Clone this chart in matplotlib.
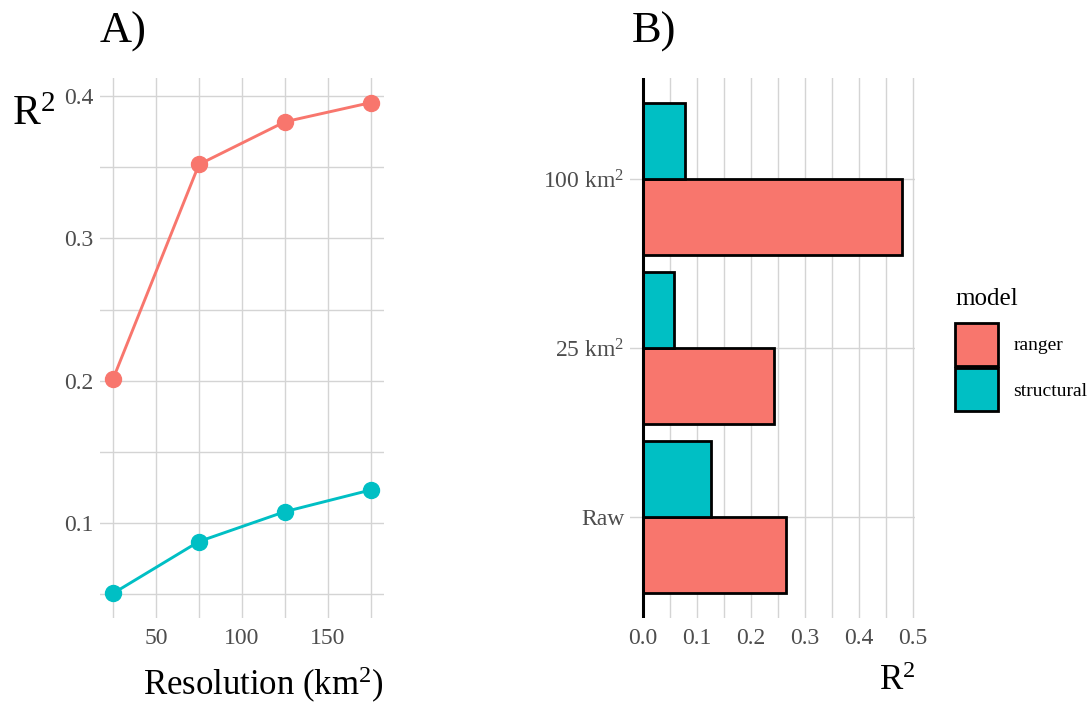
import matplotlib
matplotlib.use("Agg")
import matplotlib.pyplot as plt
from matplotlib.patches import Patch
import numpy as np

# ---- data ----
resolution = [25, 75, 125, 175]
ranger_line = [0.201, 0.352, 0.382, 0.3955]
structural_line = [0.0505, 0.087, 0.108, 0.1233]

bar_categories = ["Raw", "25 km$^2$", "100 km$^2$"]
ranger_bar = [0.265, 0.243, 0.480]
structural_bar = [0.126, 0.057, 0.078]

models = ["ranger", "structural"]
colors = {"ranger": "#F8766D", "structural": "#00BFC4"}

FONT = "Liberation Serif"
plt.rcParams["font.family"] = FONT
plt.rcParams["mathtext.fontset"] = "custom"
plt.rcParams["mathtext.rm"] = FONT
plt.rcParams["mathtext.it"] = FONT + ":italic"
plt.rcParams["mathtext.bf"] = FONT + ":bold"

GRID = "#d4d4d4"
TICK = "#4D4D4D"

fig = plt.figure(figsize=(10.89, 7.06), dpi=100)
W, H = 1089, 706

def axrect(x0, x1, y0, y1):
    return [x0 / W, 1 - y1 / H, (x1 - x0) / W, (y1 - y0) / H]

# ---- Panel A ----
axA = fig.add_axes(axrect(100, 384, 78, 618))
axA.plot(resolution, ranger_line, color=colors["ranger"], lw=2.1, marker="o",
         ms=11.5, zorder=3)
axA.plot(resolution, structural_line, color=colors["structural"], lw=2.1, marker="o",
         ms=11.5, zorder=3)
xr = max(resolution) - min(resolution)
axA.set_xlim(min(resolution) - 0.05 * xr, max(resolution) + 0.05 * xr)
allv = ranger_line + structural_line
yr = max(allv) - min(allv)
axA.set_ylim(min(allv) - 0.05 * yr, max(allv) + 0.05 * yr)
axA.set_xticks([50, 100, 150])
axA.set_xticks([25, 75, 125, 175], minor=True)
axA.set_yticks([0.1, 0.2, 0.3, 0.4])
axA.set_yticks([0.05, 0.15, 0.25, 0.35], minor=True)
axA.set_yticklabels(["0.1", "0.2", "0.3", "0.4"])
axA.grid(True, which="both", color=GRID, lw=1.0)
axA.set_axisbelow(True)
for s in axA.spines.values():
    s.set_visible(False)
axA.tick_params(axis="x", which="both", length=0, labelsize=17, labelcolor=TICK, pad=7)
axA.tick_params(axis="y", which="both", length=0, labelsize=17, labelcolor=TICK, pad=5)
axA.set_xlabel("Resolution (km$^2$)", fontsize=25, loc="right", labelpad=12)
fig.text(12 / W, 1 - 125 / H, "R$^2$", fontsize=30, ha="left", va="baseline")
fig.text(100 / W, 1 - 43 / H, "A)", fontsize=32, ha="left", va="baseline")

# ---- Panel B ----
axB = fig.add_axes(axrect(630, 915, 78, 618))
pos = np.arange(1, len(bar_categories) + 1)
bw = 0.45
axB.barh(pos - bw / 2, ranger_bar, height=bw, color=colors["ranger"],
         edgecolor="black", lw=2.0, zorder=2)
axB.barh(pos + bw / 2, structural_bar, height=bw, color=colors["structural"],
         edgecolor="black", lw=2.0, zorder=2)
axB.axvline(0, color="black", lw=2.2, zorder=3)
mx = max(ranger_bar + structural_bar)
axB.set_xlim(-0.05 * mx, mx * 1.05)
axB.set_ylim(0.4, len(bar_categories) + 0.6)
axB.set_yticks(pos)
axB.set_yticklabels(bar_categories)
axB.set_xticks([0.0, 0.1, 0.2, 0.3, 0.4, 0.5])
axB.set_xticks([0.05, 0.15, 0.25, 0.35, 0.45], minor=True)
axB.grid(True, axis="x", which="both", color=GRID, lw=1.0)
axB.grid(True, axis="y", which="major", color=GRID, lw=1.0)
axB.set_axisbelow(True)
for s in axB.spines.values():
    s.set_visible(False)
axB.tick_params(axis="x", which="both", length=0, labelsize=17, labelcolor=TICK, pad=7)
axB.tick_params(axis="y", which="both", length=0, labelsize=17, labelcolor=TICK, pad=4)
axB.set_xlabel("R$^2$", fontsize=25, loc="right", labelpad=12)
fig.text(632 / W, 1 - 43 / H, "B)", fontsize=32, ha="left", va="baseline")

# ---- Legend ----
handles = [Patch(facecolor=colors[m], edgecolor="black", lw=2.0) for m in models]
fs = 14
fig.text(955 / W, 1 - 305 / H, "model", fontsize=18, ha="left", va="baseline")
leg = fig.legend(handles, models, loc="upper left",
                 bbox_to_anchor=(955 / W, 1 - 323 / H),
                 frameon=False, fontsize=fs,
                 handlelength=2.2, handleheight=3.03, labelspacing=0.12,
                 handletextpad=0.8, borderpad=0, borderaxespad=0)

fig.savefig("out.png", dpi=100)
